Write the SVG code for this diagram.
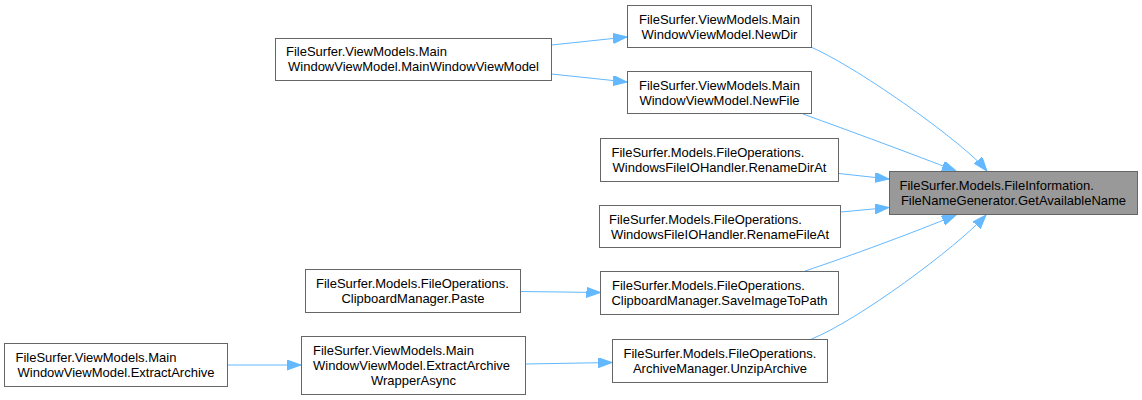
<svg xmlns="http://www.w3.org/2000/svg" width="1142" height="400" viewBox="0 0 1142 400">
<style>
.n rect{fill:#ffffff;stroke:#666666;stroke-width:1}
.n.t rect{fill:#999999}
.n text{font-family:"Liberation Sans",Arial,sans-serif;font-size:13px;fill:#000000}
.m{text-anchor:middle}
.e path{fill:none;stroke:#63b8ff;stroke-width:1;marker-end:url(#ah)}
</style>
<defs>
<marker id="ah" markerUnits="userSpaceOnUse" markerWidth="15" markerHeight="11" refX="14" refY="5" orient="auto">
<path d="M0,0 L14,5 L0,10 z" fill="#63b8ff" stroke="#63b8ff" stroke-width="1"/>
</marker>
</defs>
<rect width="1142" height="400" fill="#ffffff"/>
<g id="edges" class="e">
<path d="M551.5,45 L627,37"/>
<path d="M551.5,74 L627,82"/>
<path d="M812,47.5 C862,70 965,144 987,171"/>
<path d="M803,114 C850,131 915,155 956,171"/>
<path d="M839,173.5 L889,179"/>
<path d="M841,212 L889,207.5"/>
<path d="M805,271 C850,256 915,232 956,215"/>
<path d="M811.5,339 C857,321 956,248 986,215"/>
<path d="M521,291.5 L600.5,292.5"/>
<path d="M525.5,364 L612,362.5"/>
<path d="M228,365 L301,365"/>
</g>
<g id="node_target" class="n t">
<rect x="889.5" y="171.5" width="248" height="43"/>
<text x="899.5" y="189.5">FileSurfer.Models.FileInformation.</text>
<text x="1013.5" y="204.5" class="m">FileNameGenerator.GetAvailableName</text>
</g>
<g id="node_newdir" class="n">
<rect x="627.5" y="5.5" width="184" height="42"/>
<text x="639" y="23.5">FileSurfer.ViewModels.Main</text>
<text x="719.5" y="38.5" class="m">WindowViewModel.NewDir</text>
</g>
<g id="node_newfile" class="n">
<rect x="627.5" y="71.5" width="184" height="42"/>
<text x="639" y="89.5">FileSurfer.ViewModels.Main</text>
<text x="719.5" y="104.5" class="m">WindowViewModel.NewFile</text>
</g>
<g id="node_mainwvm" class="n">
<rect x="275.5" y="38.5" width="276" height="42"/>
<text x="286" y="56">FileSurfer.ViewModels.Main</text>
<text x="413.5" y="71" class="m">WindowViewModel.MainWindowViewModel</text>
</g>
<g id="node_renamedir" class="n">
<rect x="600.5" y="138.5" width="238" height="43"/>
<text x="611.5" y="156.5">FileSurfer.Models.FileOperations.</text>
<text x="719.5" y="171.5" class="m">WindowsFileIOHandler.RenameDirAt</text>
</g>
<g id="node_renamefile" class="n">
<rect x="599.5" y="205.5" width="241" height="42"/>
<text x="609" y="223.5">FileSurfer.Models.FileOperations.</text>
<text x="720" y="238.5" class="m">WindowsFileIOHandler.RenameFileAt</text>
</g>
<g id="node_saveimage" class="n">
<rect x="600.5" y="271.5" width="238" height="43"/>
<text x="612" y="289.5">FileSurfer.Models.FileOperations.</text>
<text x="719.5" y="304.5" class="m">ClipboardManager.SaveImageToPath</text>
</g>
<g id="node_unzip" class="n">
<rect x="612.5" y="339.5" width="215" height="43"/>
<text x="623.5" y="357.5">FileSurfer.Models.FileOperations.</text>
<text x="720" y="372.5" class="m">ArchiveManager.UnzipArchive</text>
</g>
<g id="node_paste" class="n">
<rect x="305.5" y="269.5" width="215" height="43"/>
<text x="316" y="287.5">FileSurfer.Models.FileOperations.</text>
<text x="413" y="302.5" class="m">ClipboardManager.Paste</text>
</g>
<g id="node_wrapper" class="n">
<rect x="301.5" y="336.5" width="224" height="58"/>
<text x="313" y="354.5">FileSurfer.ViewModels.Main</text>
<text x="313" y="369.5">WindowViewModel.ExtractArchive</text>
<text x="413.5" y="384.5" class="m">WrapperAsync</text>
</g>
<g id="node_extract" class="n">
<rect x="4.5" y="343.5" width="223" height="43"/>
<text x="15.5" y="361.5">FileSurfer.ViewModels.Main</text>
<text x="116" y="376.5" class="m">WindowViewModel.ExtractArchive</text>
</g>
</svg>
